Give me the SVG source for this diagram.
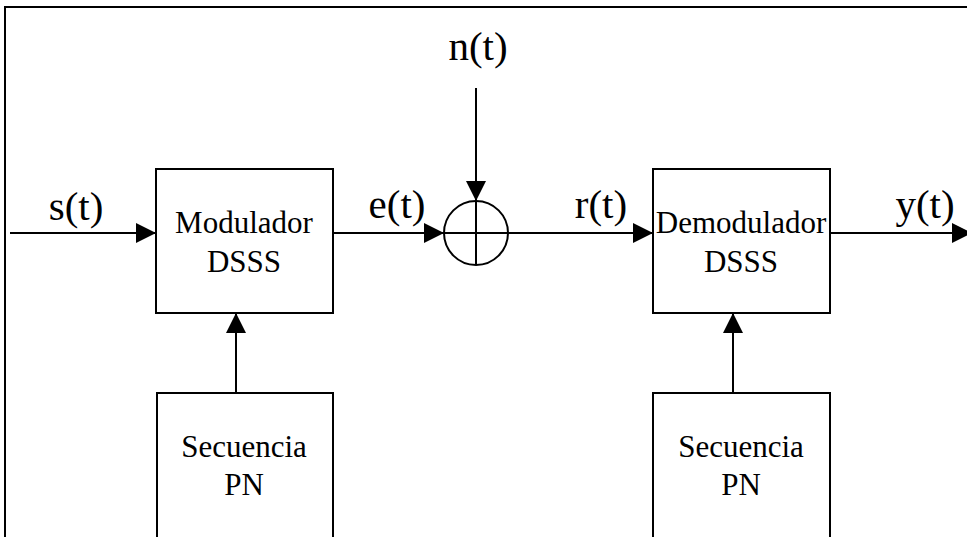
<svg xmlns="http://www.w3.org/2000/svg" width="967" height="537" viewBox="0 0 967 537">
<style>
.box{fill:#fff;stroke:#000;stroke-width:2}
.ln{fill:none;stroke:#000;stroke-width:2}
text{font-family:'Liberation Serif','Times New Roman',Tinos,'DejaVu Serif',serif;fill:#000;text-anchor:middle}
.big{font-size:41px}
.mid{font-size:31px}
</style>
<defs>
<marker id="ah" markerWidth="20" markerHeight="20" refX="20" refY="10" orient="auto" markerUnits="userSpaceOnUse">
<path d="M0,0 L20,10 L0,20 Z" fill="#000"/>
</marker>
</defs>
<rect width="967" height="537" fill="#fff"/>
<path class="ln" d="M5,537 L5,7 L967,7"/>
<g id="connectors">
<line class="ln" x1="10" y1="233" x2="156" y2="233" marker-end="url(#ah)"/>
<line class="ln" x1="333" y1="233" x2="444" y2="233" marker-end="url(#ah)"/>
<line class="ln" x1="476" y1="88" x2="476" y2="201" marker-end="url(#ah)"/>
<line class="ln" x1="508" y1="233" x2="653" y2="233" marker-end="url(#ah)"/>
<line class="ln" x1="830" y1="233" x2="972" y2="233" marker-end="url(#ah)"/>
<line class="ln" x1="236" y1="393" x2="236" y2="313" marker-end="url(#ah)"/>
<line class="ln" x1="733" y1="393" x2="733" y2="313" marker-end="url(#ah)"/>
</g>
<g id="labels">
<text class="big" x="76" y="220" font-family="Liberation Serif, serif">s(t)</text>
<text class="big" x="397" y="218">e(t)</text>
<text class="big" x="601" y="218">r(t)</text>
<text class="big" x="925" y="218">y(t)</text>
<text class="big" x="478" y="60">n(t)</text>
</g>
<g id="modulador">
<rect class="box" x="156" y="169" width="177" height="144"/>
<text class="mid" x="244" y="233">Modulador</text>
<text class="mid" x="244" y="272">DSSS</text>
</g>
<g id="sumador">
<circle class="ln" cx="476" cy="233" r="32"/>
<line class="ln" x1="476" y1="201" x2="476" y2="265"/>
<line class="ln" x1="444" y1="233" x2="508" y2="233"/>
</g>
<g id="demodulador">
<rect class="box" x="653" y="169" width="177" height="144"/>
<text class="mid" x="741" y="233">Demodulador</text>
<text class="mid" x="741" y="272">DSSS</text>
</g>
<g id="secuencia1">
<rect class="box" x="157" y="393" width="176" height="150"/>
<text class="mid" x="244" y="457">Secuencia</text>
<text class="mid" x="244" y="495">PN</text>
</g>
<g id="secuencia2">
<rect class="box" x="653" y="393" width="177" height="150"/>
<text class="mid" x="741" y="457">Secuencia</text>
<text class="mid" x="741" y="495">PN</text>
</g>
</svg>
